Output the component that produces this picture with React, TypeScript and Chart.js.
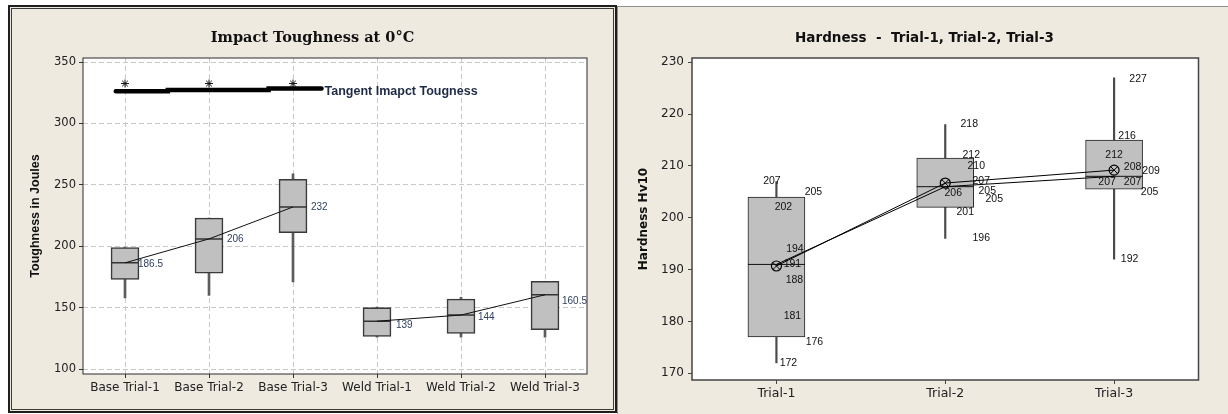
import React, { useEffect, useRef } from "react";
import { Chart, registerables } from "chart.js";

Chart.register(...registerables);

// ---------------- Impact toughness (left) ----------------
const impactCategories = ["Base Trial-1", "Base Trial-2", "Base Trial-3", "Weld Trial-1", "Weld Trial-2", "Weld Trial-3"];
const impactGroup = ["Base", "Base", "Base", "Weld", "Weld", "Weld"];
const impactMin = [158, 160, 171, 126, 126, 126];
const impactQ1 = [173, 178, 211, 126.5, 129, 132];
const impactMedian = [186.5, 206, 232, 139, 144, 160.5];
const impactQ3 = [199, 223, 254.5, 150, 157, 171.5];
const impactMax = [199, 223, 259, 150.5, 158.5, 171.5];
const impactOutliers = [332.5, 332.5, 332.5, null, null, null];
// tangent line: x in category units (fractional index), y in Joules
const tangentX = [-0.11, 0.51, 0.51, 1.71, 1.71, 2.34];
const tangentY = [326.3, 326.3, 327.2, 327.2, 328.5, 328.5];
const tangentLabel = "Tangent Imapct Tougness";
const impactTicks = [100, 150, 200, 250, 300, 350];

// ---------------- Hardness (right) ----------------
const hardCategories = ["Trial-1", "Trial-2", "Trial-3"];
const hardMin = [172, 196, 192];
const hardQ1 = [177, 202, 205.5];
const hardMedian = [191, 206, 208];
const hardQ3 = [204, 211.5, 215];
const hardMax = [207, 218, 227];
const hardMean = [190.7, 206.7, 209.2];
const trial1Values = [207, 205, 202, 194, 191, 188, 181, 176, 172];
const trial2Values = [218, 212, 210, 207, 205, 205, 206, 201, 196];
const trial3Values = [227, 216, 212, 208, 209, 207, 207, 205, 192];
const hardTicks = [170, 180, 190, 200, 210, 220, 230];

// label layout (pixel offsets, style only)
const impactLabelDx = [13, 18, 18, 19, 17, 17];
const impactLabelDy = [1, 0, 0, 4, 2, 6];
const trialLabelDx = [
  [-4.5, 37, 7, 18.5, 16, 18, 16, 38, 12],
  [24, 26, 31, 36, 42, 49, 8, 20, 36],
  [24, 13, 0, 18.5, 37, -7, 18.5, 35.5, 15.5],
];
const trialLabelDy = [
  [0, 0, 0, 0, 0, 0, 0, 0, 0],
  [0, 0, 0, 0, -1, 7, 6, 0, 0],
  [1, 1, 0, -9, 0, 1, 1, 0, 0],
];

const BG = "#EEEAE0";

function plotAreaPlugin(borderColor: string, borderWidth: number) {
  return {
    id: "plotArea",
    beforeDraw(chart: any) {
      const { ctx, chartArea } = chart;
      ctx.save();
      ctx.fillStyle = "#ffffff";
      ctx.fillRect(chartArea.left, chartArea.top, chartArea.right - chartArea.left, chartArea.bottom - chartArea.top);
      ctx.restore();
    },
    afterDraw(chart: any) {
      const { ctx, chartArea } = chart;
      ctx.save();
      ctx.strokeStyle = borderColor;
      ctx.lineWidth = borderWidth;
      ctx.strokeRect(chartArea.left, chartArea.top, chartArea.right - chartArea.left, chartArea.bottom - chartArea.top);
      ctx.restore();
    },
  };
}

function titlePlugin(text: string, x: number, y: number, font: string) {
  return {
    id: "titleText",
    afterDraw(chart: any) {
      const { ctx } = chart;
      ctx.save();
      ctx.font = font;
      ctx.fillStyle = "#111";
      ctx.textAlign = "center";
      ctx.textBaseline = "alphabetic";
      ctx.fillText(text, x, y);
      ctx.restore();
    },
  };
}

function impactConfig(): any {
  const labelsPlugin = {
    id: "impactLabels",
    afterDatasetsDraw(chart: any) {
      const { ctx, scales } = chart;
      ctx.save();
      // tangent line through the chart's own scales (category scale accepts fractional indices)
      ctx.strokeStyle = "#000";
      ctx.lineWidth = 4.5;
      ctx.lineCap = "round";
      ctx.lineJoin = "miter";
      ctx.beginPath();
      tangentX.forEach((xv, i) => {
        const px = scales.x.getPixelForValue(xv);
        const py = scales.y.getPixelForValue(tangentY[i]);
        if (i === 0) ctx.moveTo(px, py);
        else ctx.lineTo(px, py);
      });
      ctx.stroke();

      ctx.font = "10px 'Liberation Sans'";
      ctx.fillStyle = "#2d3e5e";
      ctx.textAlign = "left";
      ctx.textBaseline = "middle";
      impactMedian.forEach((v, i) => {
        const x = scales.x.getPixelForValue(i) + impactLabelDx[i];
        const y = scales.y.getPixelForValue(v) + impactLabelDy[i];
        ctx.fillText(String(v), x, y);
      });
      const last = tangentX.length - 1;
      ctx.font = "bold 12.5px 'Liberation Sans'";
      ctx.fillStyle = "#1f2a44";
      ctx.fillText(tangentLabel, scales.x.getPixelForValue(tangentX[last]) + 3, scales.y.getPixelForValue(tangentY[last]) + 3);
      ctx.restore();
    },
  };
  return {
    type: "bar",
    data: {
      labels: impactCategories,
      datasets: [
        {
          type: "bar",
          label: "whisker",
          data: impactMin.map((v, i) => [v, impactMax[i]]),
          backgroundColor: "#5c5c5c",
          borderWidth: 0,
          barThickness: 2,
          grouped: false,
          order: 6,
        },
        {
          type: "bar",
          label: "box",
          data: impactQ1.map((v, i) => [v, impactQ3[i]]),
          backgroundColor: "#c0c0c0",
          borderColor: "#3a3a3a",
          borderWidth: 1.6,
          borderSkipped: false,
          barThickness: 28,
          grouped: false,
          order: 5,
        },
        {
          type: "line",
          label: "median",
          data: impactMedian,
          showLine: false,
          pointStyle: "line",
          pointRadius: 14,
          pointHoverRadius: 14,
          pointBorderColor: "#333",
          pointBorderWidth: 1.5,
          order: 4,
        },
        {
          type: "line",
          label: "base medians",
          data: impactMedian.map((v, i) => (impactGroup[i] === "Base" ? v : null)),
          borderColor: "#111",
          borderWidth: 1,
          pointRadius: 0,
          spanGaps: false,
          order: 3,
        },
        {
          type: "line",
          label: "weld medians",
          data: impactMedian.map((v, i) => (impactGroup[i] === "Weld" ? v : null)),
          borderColor: "#111",
          borderWidth: 1,
          pointRadius: 0,
          spanGaps: false,
          order: 3,
        },
        {
          type: "line",
          label: "outliers",
          data: impactOutliers,
          showLine: false,
          pointStyle: "star",
          pointRadius: 4,
          pointBorderColor: "#111",
          pointBorderWidth: 1,
          order: 2,
        },
      ],
    },
    options: {
      responsive: false,
      animation: false,
      devicePixelRatio: 1,
      layout: { padding: { left: 24, top: 58, right: 30, bottom: 0 } },
      plugins: { legend: { display: false }, tooltip: { enabled: false }, title: { display: false } },
      scales: {
        x: {
          type: "category",
          offset: true,
          grid: { offset: false, color: "#c8c8c8", tickColor: "#333", tickLength: 4, borderDash: [5, 3] },
          border: { display: false, dash: [5, 3] },
          ticks: { font: { family: "DejaVu Sans", size: 12 }, color: "#222", padding: 3, autoSkip: false, maxRotation: 0 },
          afterFit: (s: any) => {
            s.height = 40;
          },
        },
        y: {
          min: 96,
          max: 353.3,
          afterBuildTicks: (s: any) => {
            s.ticks = impactTicks.map((v) => ({ value: v }));
          },
          grid: { color: "#c8c8c8", tickColor: "#333", tickLength: 4, borderDash: [5, 3] },
          border: { display: false, dash: [5, 3] },
          ticks: { font: { family: "DejaVu Sans", size: 11.5 }, color: "#222", padding: 3 },
          title: {
            display: true,
            text: "Toughness in Joules",
            font: { family: "Liberation Sans", size: 12.5, weight: "bold" },
            color: "#111",
            padding: { top: 4, bottom: 0 },
          },
          afterFit: (s: any) => {
            s.width = 59;
          },
        },
      },
    },
    plugins: [
      plotAreaPlugin("#2a2a2a", 1),
      titlePlugin("Impact Toughness at 0°C", 312.5, 42, "bold 14.5px 'DejaVu Serif'"),
      labelsPlugin,
    ],
  };
}

function hardnessConfig(): any {
  const trialValues = [trial1Values, trial2Values, trial3Values];
  const labelsPlugin = {
    id: "hardLabels",
    afterDatasetsDraw(chart: any) {
      const { ctx, scales } = chart;
      ctx.save();
      ctx.font = "10.5px 'Liberation Sans'";
      ctx.fillStyle = "#111";
      ctx.textAlign = "center";
      ctx.textBaseline = "middle";
      trialValues.forEach((vals, i) => {
        vals.forEach((v, j) => {
          const x = scales.x.getPixelForValue(i) + trialLabelDx[i][j];
          const y = scales.y.getPixelForValue(v) + trialLabelDy[i][j];
          ctx.fillText(String(v), x, y);
        });
      });
      ctx.restore();
    },
  };
  return {
    type: "bar",
    data: {
      labels: hardCategories,
      datasets: [
        {
          type: "bar",
          label: "whisker",
          data: hardMin.map((v, i) => [v, hardMax[i]]),
          backgroundColor: "#4a4a4a",
          borderWidth: 0,
          barThickness: 1.5,
          grouped: false,
          order: 8,
        },
        {
          type: "bar",
          label: "box",
          data: hardQ1.map((v, i) => [v, hardQ3[i]]),
          backgroundColor: "#c0c0c0",
          borderColor: "#222",
          borderWidth: 1,
          borderSkipped: false,
          barThickness: 57,
          grouped: false,
          order: 7,
        },
        {
          type: "line",
          label: "median",
          data: hardMedian,
          showLine: false,
          pointStyle: "line",
          pointRadius: 28.5,
          pointHoverRadius: 28.5,
          pointBorderColor: "#111",
          pointBorderWidth: 1,
          order: 6,
        },
        {
          type: "line",
          label: "median connect",
          data: hardMedian,
          borderColor: "#000",
          borderWidth: 1,
          pointRadius: 0,
          order: 5,
        },
        {
          type: "line",
          label: "mean connect",
          data: hardMean,
          borderColor: "#000",
          borderWidth: 1,
          pointRadius: 0,
          order: 4,
        },
        {
          type: "line",
          label: "mean circle",
          data: hardMean,
          showLine: false,
          pointStyle: "circle",
          pointRadius: 5,
          pointBackgroundColor: "rgba(0,0,0,0)",
          pointBorderColor: "#000",
          pointBorderWidth: 1.2,
          order: 3,
        },
        {
          type: "line",
          label: "mean cross",
          data: hardMean,
          showLine: false,
          pointStyle: "crossRot",
          pointRadius: 5,
          pointBorderColor: "#000",
          pointBorderWidth: 1,
          order: 2,
        },
      ],
    },
    options: {
      responsive: false,
      animation: false,
      devicePixelRatio: 1,
      layout: { padding: { left: 16, top: 58, right: 23, bottom: 0 } },
      plugins: { legend: { display: false }, tooltip: { enabled: false }, title: { display: false } },
      scales: {
        x: {
          type: "category",
          offset: true,
          grid: { offset: false, drawOnChartArea: false, tickColor: "#444", tickLength: 4 },
          border: { display: false },
          ticks: { font: { family: "DejaVu Sans", size: 12.5 }, color: "#222", padding: 2, autoSkip: false, maxRotation: 0 },
          afterFit: (s: any) => {
            s.height = 34;
          },
        },
        y: {
          min: 168.7,
          max: 230.83,
          afterBuildTicks: (s: any) => {
            s.ticks = hardTicks.map((v) => ({ value: v }));
          },
          grid: { drawOnChartArea: false, tickColor: "#444", tickLength: 4 },
          border: { display: false },
          ticks: { font: { family: "DejaVu Sans", size: 12 }, color: "#222", padding: 4 },
          title: {
            display: true,
            text: "Hardness Hv10",
            font: { family: "DejaVu Sans", size: 12, weight: "bold" },
            color: "#111",
            padding: { top: 4, bottom: 0 },
          },
          afterFit: (s: any) => {
            s.width = 59;
          },
        },
      },
    },
    plugins: [
      plotAreaPlugin("#444", 1.5),
      titlePlugin("Hardness  -  Trial-1, Trial-2, Trial-3", 307.5, 42, "bold 13.5px 'DejaVu Sans'"),
      labelsPlugin,
    ],
  };
}

export default function App() {
  const leftRef = useRef<HTMLCanvasElement>(null);
  const rightRef = useRef<HTMLCanvasElement>(null);

  useEffect(() => {
    const left = new Chart(leftRef.current as HTMLCanvasElement, impactConfig());
    const right = new Chart(rightRef.current as HTMLCanvasElement, hardnessConfig());
    return () => {
      left.destroy();
      right.destroy();
    };
  }, []);

  return (
    <div style={{ position: "fixed", left: 0, top: 0, width: 1228, height: 414, background: "#fff", overflow: "hidden" }}>
      <div
        style={{
          position: "absolute",
          left: 8,
          top: 5,
          width: 609,
          height: 408,
          boxSizing: "border-box",
          border: "2px solid #1e1e1e",
          background: BG,
        }}
      >
        <div style={{ position: "absolute", left: 1, top: 1, right: 1, bottom: 1, border: "1px solid #3a3a3a" }} />
      </div>
      <div
        style={{
          position: "absolute",
          left: 617,
          top: 6,
          width: 611,
          height: 408,
          boxSizing: "border-box",
          borderTop: "1px solid #8f8f8f",
          borderLeft: "1px solid #8f8f8f",
          background: BG,
        }}
      />
      <canvas
        ref={leftRef}
        width={617}
        height={414}
        style={{ position: "absolute", left: 0, top: 0, width: 617, height: 414 }}
      />
      <canvas
        ref={rightRef}
        width={611}
        height={414}
        style={{ position: "absolute", left: 617, top: 0, width: 611, height: 414 }}
      />
    </div>
  );
}
